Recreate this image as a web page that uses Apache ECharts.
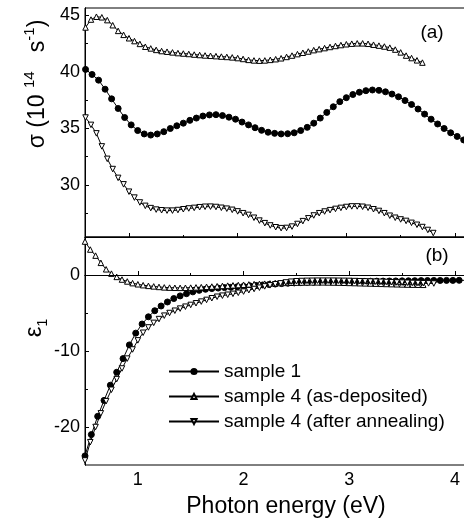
<!DOCTYPE html>
<html><head><meta charset="utf-8">
<script src="https://cdn.jsdelivr.net/npm/echarts@6/dist/echarts.min.js"></script>
<style>html,body{margin:0;padding:0;background:#fff}#c{width:464px;height:524px}</style>
</head><body><div id="c"></div>
<script>
// ---------- data ----------
const seriesNames = ['sample 1', 'sample 4 (as-deposited)', 'sample 4 (after annealing)'];
const xTickLabels = [1, 2, 3, 4];
const xMinorTicks = [1.5, 2.5, 3.5];
const sigmaTickLabels = [30, 35, 40, 45];
const sigmaMinorTicks = [27.5, 32.5, 37.5, 42.5];
const epsTickLabels = [-20, -10, 0];
const epsMinorTicks = [-15, -5];

// (a) sigma, sample 1
const sigS1_E = [0.60,0.66,0.72,0.78,0.84,0.90,0.96,1.02,1.08,1.14,1.20,1.26,1.32,1.38,1.44,1.50,1.56,1.62,1.68,1.74,1.80,1.86,1.92,1.98,2.04,2.10,2.16,2.22,2.28,2.34,2.40,2.46,2.52,2.58,2.64,2.70,2.76,2.82,2.88,2.94,3.00,3.06,3.12,3.18,3.24,3.30,3.36,3.42,3.48,3.54,3.60,3.66,3.72,3.78,3.84,3.90,3.96,4.02,4.08];
const sigS1 = [40.2,39.75,39.25,38.45,37.6,36.75,35.95,35.3,34.8,34.5,34.4,34.5,34.7,34.98,35.22,35.45,35.7,35.9,36.08,36.18,36.2,36.12,35.98,35.8,35.55,35.3,35.05,34.82,34.65,34.55,34.5,34.52,34.6,34.8,35.08,35.45,35.9,36.4,36.9,37.35,37.7,37.98,38.18,38.32,38.38,38.35,38.22,38.02,37.78,37.45,37.1,36.7,36.25,35.8,35.38,34.98,34.6,34.28,33.97];
// (a) sigma, sample 4 as-deposited
const sigAD_E = [0.60,0.65,0.70,0.75,0.80,0.85,0.90,0.95,1.00,1.05,1.10,1.15,1.20,1.25,1.30,1.35,1.40,1.45,1.50,1.55,1.60,1.65,1.70,1.75,1.80,1.85,1.90,1.95,2.00,2.05,2.10,2.15,2.20,2.25,2.30,2.35,2.40,2.45,2.50,2.55,2.60,2.65,2.70,2.75,2.80,2.85,2.90,2.95,3.00,3.05,3.10,3.15,3.20,3.25,3.30,3.35,3.40,3.45,3.50,3.55,3.60,3.65,3.70];
const sigAD = [43.9,44.6,44.85,44.8,44.55,44.1,43.6,43.25,42.95,42.7,42.45,42.2,42.05,41.92,41.82,41.76,41.7,41.64,41.6,41.56,41.51,41.47,41.43,41.4,41.37,41.33,41.3,41.26,41.2,41.12,41.04,40.99,40.97,40.99,41.04,41.1,41.18,41.3,41.42,41.55,41.67,41.78,41.9,41.99,42.08,42.18,42.27,42.35,42.42,42.47,42.5,42.5,42.46,42.38,42.3,42.22,42.12,41.95,41.7,41.42,41.2,41.0,40.8];
// (a) sigma, sample 4 after annealing
const sigAN_E = [0.60,0.65,0.70,0.75,0.80,0.85,0.90,0.95,1.00,1.05,1.10,1.15,1.20,1.25,1.30,1.35,1.40,1.45,1.50,1.55,1.60,1.65,1.70,1.75,1.80,1.85,1.90,1.95,2.00,2.05,2.10,2.15,2.20,2.25,2.30,2.35,2.40,2.45,2.50,2.55,2.60,2.65,2.70,2.75,2.80,2.85,2.90,2.95,3.00,3.05,3.10,3.15,3.20,3.25,3.30,3.35,3.40,3.45,3.50,3.55,3.60,3.65,3.70,3.75,3.80];
const sigAN = [35.95,35.3,34.55,33.4,32.3,31.4,30.62,30.05,29.4,28.88,28.45,28.15,27.95,27.82,27.76,27.73,27.73,27.78,27.85,27.92,27.97,28.03,28.07,28.08,28.05,27.98,27.9,27.8,27.66,27.5,27.35,27.1,26.85,26.62,26.42,26.26,26.18,26.2,26.32,26.55,26.8,27.05,27.3,27.5,27.65,27.77,27.88,27.97,28.05,28.1,28.1,28.07,27.98,27.85,27.7,27.5,27.28,27.1,26.95,26.82,26.65,26.48,26.28,26.02,25.75];

// (b) eps1, sample 1
const epsS1_E = [0.50,0.56,0.62,0.68,0.74,0.80,0.86,0.92,0.98,1.04,1.10,1.16,1.22,1.28,1.34,1.40,1.46,1.52,1.58,1.64,1.70,1.76,1.82,1.88,1.94,2.00,2.06,2.12,2.18,2.24,2.30,2.36,2.42,2.48,2.54,2.60,2.66,2.72,2.78,2.84,2.90,2.96,3.02,3.08,3.14,3.20,3.26,3.32,3.38,3.44,3.50,3.56,3.62,3.68,3.74,3.80,3.86,3.92,3.98,4.04,4.10];
const epsS1 = [-23.8,-21.0,-18.6,-16.5,-14.5,-12.8,-11.0,-9.2,-7.65,-6.45,-5.5,-4.7,-4.08,-3.55,-3.1,-2.75,-2.46,-2.22,-2.02,-1.88,-1.79,-1.72,-1.66,-1.61,-1.55,-1.49,-1.43,-1.37,-1.31,-1.25,-1.19,-1.13,-1.08,-1.04,-1.0,-0.97,-0.94,-0.92,-0.9,-0.88,-0.87,-0.86,-0.85,-0.84,-0.83,-0.82,-0.81,-0.8,-0.79,-0.78,-0.77,-0.76,-0.75,-0.74,-0.73,-0.72,-0.72,-0.71,-0.71,-0.7,-0.7];
// (b) eps1, sample 4 as-deposited
const epsAD_E = [0.50,0.55,0.60,0.65,0.70,0.75,0.80,0.85,0.90,0.95,1.00,1.05,1.10,1.15,1.20,1.25,1.30,1.35,1.40,1.45,1.50,1.55,1.60,1.65,1.70,1.75,1.80,1.85,1.90,1.95,2.00,2.05,2.10,2.15,2.20,2.25,2.30,2.35,2.40,2.45,2.50,2.55,2.60,2.65,2.70,2.75,2.80,2.85,2.90,2.95,3.00,3.05,3.10,3.15,3.20,3.25,3.30,3.35,3.40,3.45,3.50,3.55,3.60,3.65,3.70];
const epsAD = [4.4,3.35,2.55,1.6,0.75,0.18,-0.25,-0.6,-0.85,-1.07,-1.22,-1.34,-1.43,-1.5,-1.57,-1.63,-1.66,-1.68,-1.69,-1.68,-1.66,-1.63,-1.6,-1.56,-1.52,-1.48,-1.44,-1.4,-1.36,-1.32,-1.28,-1.24,-1.2,-1.17,-1.14,-1.11,-1.08,-1.06,-1.04,-1.02,-1.0,-0.99,-0.98,-0.97,-0.97,-0.97,-0.98,-0.99,-1.0,-1.02,-1.04,-1.06,-1.08,-1.1,-1.12,-1.14,-1.16,-1.18,-1.2,-1.22,-1.24,-1.26,-1.27,-1.28,-1.29];
// (b) eps1, sample 4 after annealing
const epsAN_E = [0.50,0.55,0.60,0.65,0.70,0.75,0.80,0.85,0.90,0.95,1.00,1.05,1.10,1.15,1.20,1.25,1.30,1.35,1.40,1.45,1.50,1.55,1.60,1.65,1.70,1.75,1.80,1.85,1.90,1.95,2.00,2.05,2.10,2.15,2.20,2.25,2.30,2.35,2.40,2.45,2.50,2.55,2.60,2.65,2.70,2.75,2.80,2.85,2.90,2.95,3.00,3.05,3.10,3.15,3.20,3.25,3.30,3.35,3.40,3.45,3.50,3.55,3.60,3.65,3.70,3.75,3.80];
const epsAN = [-24.4,-22.0,-20.0,-18.2,-16.6,-15.1,-13.7,-12.3,-11.0,-9.8,-8.6,-7.6,-6.9,-6.3,-5.8,-5.35,-5.0,-4.7,-4.42,-4.17,-3.94,-3.72,-3.5,-3.28,-3.06,-2.86,-2.72,-2.6,-2.48,-2.34,-2.18,-2.0,-1.84,-1.67,-1.5,-1.36,-1.22,-1.1,-0.98,-0.88,-0.82,-0.79,-0.77,-0.76,-0.75,-0.75,-0.75,-0.75,-0.76,-0.77,-0.78,-0.8,-0.82,-0.84,-0.86,-0.88,-0.9,-0.92,-0.95,-0.98,-1.0,-1.02,-1.04,-1.06,-1.08,-1.1,-1.12];

// ---------- chart ----------
const FONT = 'Liberation Sans, Arial, Helvetica, sans-serif';
const chart = echarts.init(document.getElementById('c'), null, {renderer: 'canvas'});
const black = '#000';
const pair = (E, V) => E.map((e, i) => [e, V[i]]);

function xAx(grid, min, max, ticks, len, labels) {
  return {
    type: 'value', gridIndex: grid, min: min, max: max, position: 'bottom',
    axisLine: {show: true, lineStyle: {color: black, width: 1}},
    splitLine: {show: false},
    axisTick: {show: true, inside: true, length: len, customValues: ticks, lineStyle: {color: black, width: 1}},
    axisLabel: labels ? {show: true, customValues: labels, color: black, fontSize: 18, fontFamily: FONT, margin: 6}
                      : {show: false}
  };
}
function yAx(grid, min, max, ticks, len, labels) {
  return {
    type: 'value', gridIndex: grid, min: min, max: max, position: 'left',
    axisLine: {show: true, lineStyle: {color: black, width: 1}},
    splitLine: {show: false},
    axisTick: {show: true, inside: true, length: len, customValues: ticks, lineStyle: {color: black, width: 1}},
    axisLabel: labels ? {show: true, customValues: labels, color: black, fontSize: 18, fontFamily: FONT, margin: 5}
                      : {show: false}
  };
}
function ser(name, xi, yi, data, symbol, rotate, filled, extra) {
  return Object.assign({
    name: name, type: 'line', xAxisIndex: xi, yAxisIndex: yi, data: data,
    symbol: symbol, symbolRotate: rotate, symbolSize: filled ? 6 : 5.5,
    showSymbol: true, showAllSymbol: true, animation: false, clip: true,
    lineStyle: {color: black, width: 1},
    itemStyle: {color: filled ? black : '#fff', borderColor: black, borderWidth: 1},
    emphasis: {disabled: true}
  }, extra || {});
}

const option = {
  backgroundColor: '#fff',
  animation: false,
  grid: [
    {left: 85, top: 8, width: 380, height: 229, show: true, borderColor: black, borderWidth: 1, backgroundColor: 'transparent', outerBoundsMode: 'none'},
    {left: 85, top: 237, width: 380, height: 228, show: true, borderColor: black, borderWidth: 1, backgroundColor: 'transparent', outerBoundsMode: 'none'}
  ],
  xAxis: [
    xAx(1, 0.5, 4.095, xTickLabels, 4, xTickLabels),
    xAx(1, 0.5, 4.095, xMinorTicks, 2, null),
    xAx(0, 0.595, 4.092, xTickLabels, 4, null),
    xAx(0, 0.595, 4.092, xMinorTicks, 2, null)
  ],
  yAxis: [
    yAx(0, 25.4, 45.62, sigmaTickLabels, 4, sigmaTickLabels),
    yAx(0, 25.4, 45.62, sigmaMinorTicks, 3, null),
    yAx(1, -25, 5, epsTickLabels, 4, epsTickLabels),
    yAx(1, -25, 5, epsMinorTicks, 3, null)
  ],
  legend: {
    orient: 'vertical', left: 163, top: 357, itemWidth: 50, itemHeight: 6.5, itemGap: 6,
    selectedMode: false,
    textStyle: {fontSize: 19, color: black, fontFamily: FONT, lineHeight: 19},
    data: seriesNames
  },
  series: [
    ser(seriesNames[0], 2, 0, pair(sigS1_E, sigS1), 'circle', 0, true),
    ser(seriesNames[1], 2, 0, pair(sigAD_E, sigAD), 'triangle', 0, false),
    ser(seriesNames[2], 2, 0, pair(sigAN_E, sigAN), 'triangle', 180, false),
    ser(seriesNames[0], 0, 2, pair(epsS1_E, epsS1), 'circle', 0, true),
    ser(seriesNames[1], 0, 2, pair(epsAD_E, epsAD), 'triangle', 0, false, {
      markLine: {silent: true, symbol: ['none', 'none'], label: {show: false},
        lineStyle: {color: black, width: 1, type: 'solid'}, data: [{yAxis: 0}]}
    }),
    ser(seriesNames[2], 0, 2, pair(epsAN_E, epsAN), 'triangle', 180, false)
  ],
  graphic: [
    {type: 'text', x: 432, y: 33, style: {text: '(a)', fontSize: 19, fontFamily: FONT, fill: black, textAlign: 'center', textVerticalAlign: 'middle'}},
    {type: 'text', x: 437, y: 256, style: {text: '(b)', fontSize: 19, fontFamily: FONT, fill: black, textAlign: 'center', textVerticalAlign: 'middle'}},
    {type: 'text', x: 286, y: 507, style: {text: 'Photon energy (eV)', fontSize: 23, fontFamily: FONT, fill: black, textAlign: 'center', textVerticalAlign: 'middle'}},
    {type: 'text', x: 36, y: 84, rotation: Math.PI / 2, style: {
      text: '{m|σ (10 }{s|14}{m|   s}{s|-1}{m|)}', textAlign: 'center', textVerticalAlign: 'middle', fill: black,
      rich: {m: {fontSize: 23, fontFamily: FONT, fill: black, lineHeight: 27, verticalAlign: 'bottom'},
             s: {fontSize: 15, fontFamily: FONT, fill: black, lineHeight: 15, verticalAlign: 'top'}}}},
    {type: 'text', x: 36, y: 328, rotation: Math.PI / 2, style: {
      text: '{m|ε}{s|1}', textAlign: 'center', textVerticalAlign: 'middle', fill: black,
      rich: {m: {fontSize: 24, fontFamily: FONT, fill: black, lineHeight: 28, verticalAlign: 'top'},
             s: {fontSize: 14, fontFamily: FONT, fill: black, lineHeight: 14, verticalAlign: 'bottom'}}}}
  ]
};
chart.setOption(option);
</script>
</body></html>
